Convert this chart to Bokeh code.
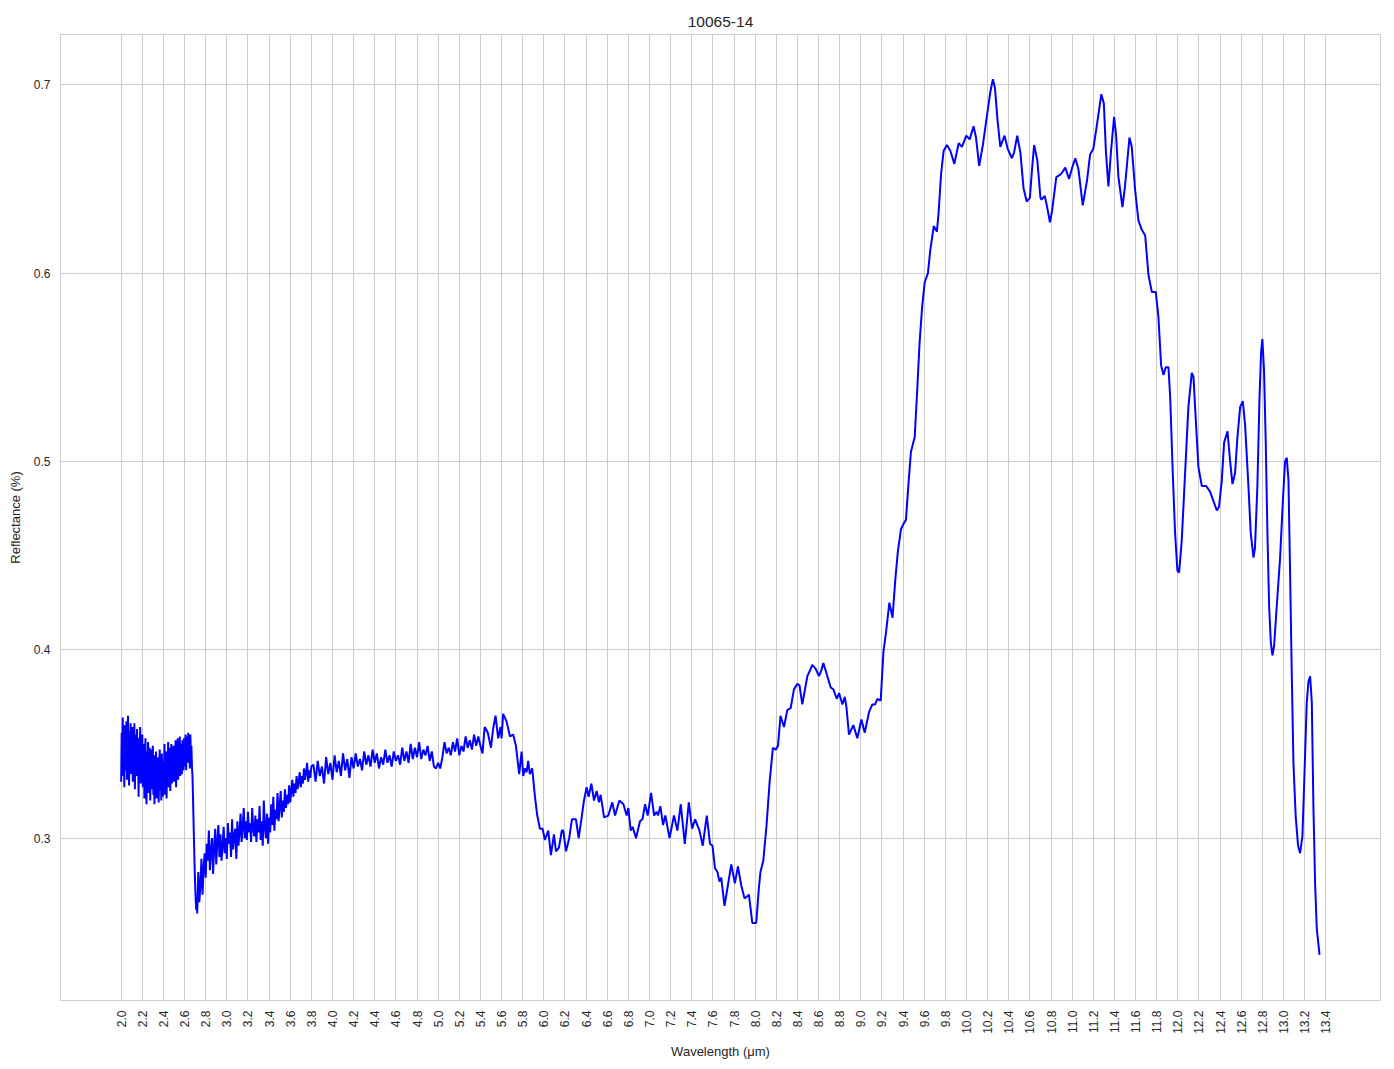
import math
from bokeh.plotting import figure
from bokeh.models import FixedTicker, NumeralTickFormatter, Range1d
from bokeh.embed import file_html
from bokeh.resources import INLINE

# ---------------- data ----------------
TITLE = "10065-14"
X_LABEL = "Wavelength (μm)"
Y_LABEL = "Reflectance (%)"

# noisy part, 2.000 .. 2.720 um, sampled every 0.005 um
start_a, step_a = 2.00, 0.005
refl_a = [0.330, 0.356, 0.341, 0.364, 0.333, 0.349, 0.327, 0.360, 0.345, 0.336,
          0.362, 0.331, 0.352, 0.365, 0.338, 0.328, 0.357, 0.343, 0.361, 0.334,
          0.347, 0.359, 0.330, 0.351, 0.338, 0.361, 0.326, 0.344, 0.355, 0.333,
          0.358, 0.340, 0.349, 0.322, 0.353, 0.337, 0.359, 0.329, 0.346, 0.335,
          0.355, 0.327, 0.343, 0.350, 0.321, 0.338, 0.353, 0.330, 0.318, 0.346,
          0.336, 0.351, 0.324, 0.341, 0.348, 0.320, 0.333, 0.347, 0.326, 0.340,
          0.349, 0.323, 0.337, 0.318, 0.344, 0.330, 0.346, 0.321, 0.339, 0.327,
          0.343, 0.319, 0.335, 0.347, 0.325, 0.340, 0.320, 0.345, 0.332, 0.322,
          0.341, 0.329, 0.350, 0.323, 0.337, 0.346, 0.321, 0.343, 0.331, 0.351,
          0.327, 0.340, 0.348, 0.325, 0.336, 0.350, 0.329, 0.344, 0.333, 0.349,
          0.330, 0.346, 0.338, 0.352, 0.327, 0.343, 0.335, 0.353, 0.331, 0.347,
          0.339, 0.354, 0.333, 0.345, 0.350, 0.334, 0.352, 0.340, 0.336, 0.353,
          0.338, 0.349, 0.355, 0.336, 0.347, 0.354, 0.340, 0.356, 0.344, 0.351,
          0.337, 0.355, 0.343, 0.349, 0.338, 0.333, 0.322, 0.309, 0.297, 0.285,
          0.276, 0.268, 0.262, 0.266, 0.260]

# noisy part, 2.73 .. 3.80 um, sampled every 0.01 um
start_b, step_b = 2.73, 0.01
refl_b = [0.282, 0.266, 0.275, 0.289, 0.270, 0.284, 0.292,
          0.279, 0.297, 0.288, 0.304, 0.283, 0.293, 0.300, 0.281, 0.295, 0.305,
          0.286, 0.298, 0.307, 0.290, 0.302, 0.288, 0.296, 0.306, 0.292, 0.300,
          0.289, 0.308, 0.297, 0.303, 0.290, 0.310, 0.294, 0.301, 0.305, 0.289,
          0.309, 0.296, 0.303, 0.313, 0.298, 0.306, 0.316, 0.300, 0.309, 0.299,
          0.314, 0.303, 0.308, 0.298, 0.316, 0.305, 0.301, 0.312, 0.298, 0.310,
          0.303, 0.317, 0.299, 0.309, 0.296, 0.320, 0.306, 0.300, 0.313, 0.297,
          0.311, 0.303, 0.318, 0.307, 0.322, 0.304, 0.315, 0.310, 0.324, 0.309,
          0.317, 0.325, 0.311, 0.320, 0.314, 0.326, 0.316, 0.323, 0.318, 0.328,
          0.319, 0.325, 0.331, 0.322, 0.329, 0.324, 0.333, 0.326, 0.330, 0.335,
          0.327, 0.333, 0.329, 0.337, 0.331, 0.335, 0.340, 0.330, 0.336, 0.332,
          0.338]

# noisy part, 3.82 .. 5.40 um, sampled every 0.02 um
start_c, step_c = 3.82, 0.02
refl_c = [0.339, 0.330, 0.341, 0.333, 0.338, 0.329, 0.343, 0.334, 0.340, 0.331,
          0.344, 0.335, 0.341, 0.333, 0.345, 0.336, 0.342, 0.332, 0.343, 0.337,
          0.345, 0.338, 0.342, 0.336, 0.346, 0.339, 0.344, 0.338, 0.347, 0.340,
          0.345, 0.337, 0.343, 0.339, 0.347, 0.340, 0.344, 0.338, 0.346, 0.341,
          0.344, 0.339, 0.348, 0.341, 0.346, 0.340, 0.350, 0.342, 0.348, 0.343,
          0.351, 0.342, 0.347, 0.344, 0.349, 0.341, 0.346, 0.338, 0.337, 0.340,
          0.337, 0.343, 0.351, 0.345, 0.348, 0.344, 0.351, 0.346, 0.353, 0.344,
          0.349, 0.346, 0.354, 0.348, 0.352, 0.347, 0.355, 0.349, 0.354, 0.349]

# smoother part, 5.42 .. 13.34 um
wl_d = [5.42, 5.44, 5.47, 5.50, 5.52, 5.543, 5.568, 5.59, 5.60, 5.615, 5.647, 5.68, 5.71, 5.736, 5.767,
        5.79, 5.805, 5.82, 5.837, 5.852, 5.868, 5.89, 5.916, 5.938, 5.963, 5.988, 6.01, 6.042, 6.067,
        6.096, 6.115, 6.143, 6.17, 6.184, 6.21, 6.24, 6.266, 6.304, 6.33, 6.358, 6.38, 6.405, 6.424,
        6.45, 6.475, 6.5, 6.522, 6.538, 6.57, 6.61, 6.648, 6.674, 6.715, 6.753, 6.784, 6.8, 6.822,
        6.84, 6.873, 6.91, 6.933, 6.958, 6.983, 7.015, 7.044, 7.068, 7.08, 7.103, 7.128, 7.15, 7.19,
        7.232, 7.264, 7.296, 7.334, 7.372, 7.403, 7.432, 7.473, 7.504, 7.542, 7.573, 7.596, 7.62,
        7.643, 7.662, 7.679, 7.71, 7.742, 7.774, 7.808, 7.837, 7.868, 7.9, 7.941, 7.973, 8.01, 8.036,
        8.05, 8.077, 8.108, 8.137, 8.168, 8.194, 8.216, 8.24, 8.273, 8.304, 8.336, 8.367, 8.4, 8.42,
        8.446, 8.462, 8.494, 8.519, 8.54, 8.572, 8.604, 8.626, 8.645, 8.667, 8.715, 8.74, 8.772,
        8.794, 8.826, 8.848, 8.863, 8.888, 8.929, 8.967, 9.005, 9.037, 9.078, 9.109, 9.135, 9.157,
        9.188, 9.214, 9.238, 9.27, 9.30, 9.326, 9.35, 9.38, 9.405, 9.427, 9.452, 9.474, 9.51, 9.53,
        9.556, 9.58, 9.604, 9.635, 9.657, 9.69, 9.72, 9.736, 9.76, 9.784, 9.815, 9.847, 9.885, 9.926,
        9.957, 9.998, 10.03, 10.067, 10.09, 10.12, 10.155, 10.187, 10.225, 10.25, 10.27, 10.294,
        10.32, 10.36, 10.39, 10.43, 10.45, 10.48, 10.51, 10.54, 10.57, 10.6, 10.62, 10.64, 10.67,
        10.7, 10.71, 10.74, 10.76, 10.79, 10.81, 10.85, 10.88, 10.9, 10.935, 10.97, 11.0, 11.03,
        11.06, 11.1, 11.14, 11.17, 11.2, 11.235, 11.276, 11.3, 11.32, 11.343, 11.368, 11.397, 11.416,
        11.438, 11.476, 11.5, 11.542, 11.564, 11.596, 11.627, 11.659, 11.691, 11.722, 11.754, 11.791,
        11.816, 11.842, 11.864, 11.886, 11.911, 11.927, 11.952, 11.974, 11.996, 12.012, 12.037,
        12.069, 12.1, 12.132, 12.148, 12.173, 12.195, 12.227, 12.268, 12.305, 12.337, 12.369, 12.39,
        12.416, 12.438, 12.47, 12.495, 12.517, 12.542, 12.564, 12.59, 12.615, 12.637, 12.668, 12.69,
        12.716, 12.73, 12.753, 12.772, 12.788, 12.8, 12.816, 12.832, 12.848, 12.864, 12.88, 12.895,
        12.911, 12.936, 12.968, 12.993, 13.015, 13.031, 13.047, 13.062, 13.078, 13.094, 13.116,
        13.138, 13.157, 13.179, 13.198, 13.22, 13.236, 13.252, 13.268, 13.283, 13.299, 13.315, 13.341]
refl_d = [0.345, 0.359, 0.356, 0.348, 0.358, 0.365, 0.353, 0.359, 0.353, 0.366, 0.362, 0.354, 0.355, 0.349, 0.334,
          0.346, 0.333, 0.337, 0.335, 0.341, 0.334, 0.337, 0.322, 0.312, 0.305, 0.305, 0.299, 0.304, 0.291,
          0.302, 0.293, 0.295, 0.304, 0.304, 0.293, 0.300, 0.310, 0.310, 0.300, 0.311, 0.320, 0.327, 0.322,
          0.329, 0.320, 0.325, 0.319, 0.323, 0.311, 0.312, 0.319, 0.312, 0.320, 0.318, 0.312, 0.316, 0.304,
          0.306, 0.300, 0.309, 0.310, 0.318, 0.312, 0.324, 0.312, 0.314, 0.312, 0.317, 0.307, 0.312, 0.300,
          0.312, 0.304, 0.318, 0.297, 0.319, 0.305, 0.310, 0.304, 0.296, 0.312, 0.297, 0.296, 0.284,
          0.282, 0.277, 0.279, 0.264, 0.275, 0.286, 0.276, 0.285, 0.275, 0.268, 0.270, 0.255, 0.255, 0.274,
          0.282, 0.288, 0.307, 0.330, 0.348, 0.347, 0.349, 0.365, 0.359, 0.368, 0.369, 0.379, 0.382, 0.381,
          0.371, 0.376, 0.386, 0.389, 0.392, 0.390, 0.386, 0.389, 0.393, 0.389, 0.380, 0.379, 0.374,
          0.377, 0.371, 0.375, 0.370, 0.355, 0.360, 0.353, 0.363, 0.356, 0.367, 0.371, 0.371, 0.374,
          0.373, 0.399, 0.409, 0.425, 0.417, 0.437, 0.452, 0.464, 0.467, 0.469, 0.489, 0.505, 0.513, 0.534,
          0.563, 0.582, 0.595, 0.600, 0.612, 0.625, 0.622, 0.632, 0.653, 0.665, 0.668, 0.665, 0.658, 0.669,
          0.667, 0.673, 0.671, 0.678, 0.672, 0.657, 0.668, 0.681, 0.696, 0.703, 0.698, 0.681,
          0.667, 0.673, 0.666, 0.661, 0.664, 0.673, 0.664, 0.645, 0.638, 0.640, 0.655, 0.668, 0.660,
          0.640, 0.639, 0.641, 0.636, 0.627, 0.633, 0.651, 0.652, 0.653, 0.656, 0.650, 0.656, 0.661,
          0.655, 0.636, 0.649, 0.663, 0.666, 0.679, 0.695, 0.690, 0.664, 0.646, 0.665, 0.683, 0.673,
          0.651, 0.635, 0.646, 0.672, 0.667, 0.644, 0.628, 0.623, 0.620, 0.599, 0.590, 0.590,
          0.577, 0.551, 0.546, 0.550, 0.550, 0.535, 0.494, 0.462, 0.442, 0.441, 0.458,
          0.494, 0.529, 0.547, 0.545, 0.519, 0.497, 0.487, 0.487, 0.484, 0.479, 0.474, 0.476,
          0.490, 0.510, 0.516, 0.500, 0.488, 0.494, 0.513, 0.529, 0.532, 0.519, 0.487, 0.462,
          0.449, 0.454, 0.487, 0.532, 0.558, 0.565, 0.548, 0.510, 0.462, 0.423, 0.404, 0.397,
          0.402, 0.423, 0.449, 0.478, 0.500, 0.502, 0.490, 0.442, 0.388, 0.340, 0.311,
          0.296, 0.292, 0.301, 0.333, 0.372, 0.383, 0.386, 0.372, 0.317, 0.276, 0.252, 0.238]

x_ticks = [2.0, 2.2, 2.4, 2.6, 2.8, 3.0, 3.2, 3.4, 3.6, 3.8, 4.0, 4.2, 4.4, 4.6, 4.8, 5.0,
           5.2, 5.4, 5.6, 5.8, 6.0, 6.2, 6.4, 6.6, 6.8, 7.0, 7.2, 7.4, 7.6, 7.8, 8.0, 8.2,
           8.4, 8.6, 8.8, 9.0, 9.2, 9.4, 9.6, 9.8, 10.0, 10.2, 10.4, 10.6, 10.8, 11.0, 11.2,
           11.4, 11.6, 11.8, 12.0, 12.2, 12.4, 12.6, 12.8, 13.0, 13.2, 13.4]
y_ticks = [0.3, 0.4, 0.5, 0.6, 0.7]

# ---------------- assemble ----------------
wl_a = [round(start_a + step_a * i, 4) for i in range(len(refl_a))]
wl_b = [round(start_b + step_b * i, 4) for i in range(len(refl_b))]
wl_c = [round(start_c + step_c * i, 4) for i in range(len(refl_c))]
wavelength = wl_a + wl_b + wl_c + wl_d
reflectance = refl_a + refl_b + refl_c + refl_d

FONT = "Liberation Sans"
TEXT = "#262626"
GRID = "#cccccc"

p = figure(width=1386, height=1061, output_backend="svg", toolbar_location=None,
           x_range=Range1d(1.426, 13.918), y_range=Range1d(0.2138, 0.7267),
           min_border_left=60, min_border_right=6, min_border_top=34, min_border_bottom=59)

p.line(wavelength, reflectance, line_color="#0000ff", line_width=2)

p.title.text = TITLE
p.title.align = "center"
p.title.text_font = FONT
p.title.text_font_size = "15.5px"
p.title.text_font_style = "normal"
p.title.text_color = TEXT
p.title.standoff = 15

p.background_fill_color = "white"
p.border_fill_color = "white"
p.outline_line_color = GRID
p.outline_line_width = 1

p.xaxis.ticker = FixedTicker(ticks=x_ticks)
p.yaxis.ticker = FixedTicker(ticks=y_ticks)
p.xaxis.formatter = NumeralTickFormatter(format="0.0")
p.yaxis.formatter = NumeralTickFormatter(format="0.0")
p.xaxis.major_label_orientation = math.pi / 2

for ax in (p.xaxis, p.yaxis):
    ax.axis_line_color = None
    ax.major_tick_line_color = None
    ax.minor_tick_line_color = None
    ax.major_tick_out = 0
    ax.major_tick_in = 0
    ax.major_label_text_font = FONT
    ax.major_label_text_font_size = "12px"
    ax.major_label_text_color = TEXT
    ax.major_label_standoff = 10
    ax.axis_label_text_font = FONT
    ax.axis_label_text_font_size = "13px"
    ax.axis_label_text_font_style = "normal"
    ax.axis_label_text_color = TEXT

p.xaxis.axis_label = X_LABEL
p.yaxis.axis_label = Y_LABEL
p.xaxis.axis_label_standoff = 7
p.yaxis.axis_label_standoff = 8

p.xgrid.grid_line_color = GRID
p.ygrid.grid_line_color = GRID
p.xgrid.grid_line_width = 1
p.ygrid.grid_line_width = 1

open("out.html", "w").write(file_html(p, INLINE))
